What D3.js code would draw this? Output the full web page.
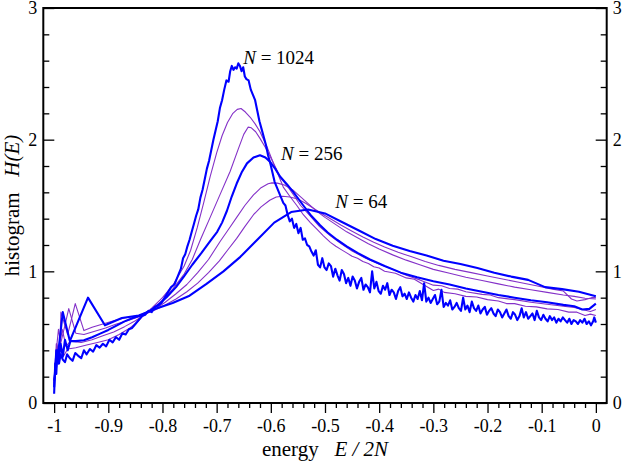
<!DOCTYPE html>
<meta charset="utf-8">

<!-- Load d3.js -->
<script src="https://d3js.org/d3.v7.min.js"></script>

<style>
body {
  margin: 0;
  background: #fff;
}
svg text {
  font-family: "Liberation Serif", "Times New Roman", Times, "DejaVu Serif", serif;
}
</style>

<!-- Create a div where the graph will take place -->
<div id="my_dataviz"></div>

<script>
// ---- data: [E/2N, H(E)] ----
var energyTicks = [-1, -0.9, -0.8, -0.7, -0.6, -0.5, -0.4, -0.3, -0.2, -0.1, 0];
var histTicks = [0, 1, 2, 3];

var curveLabels = ["1024", "256", "64"];

var n64 = [
  [-1.000, 0.17], [-0.992, 0.40], [-0.984, 0.69], [-0.971, 0.47], [-0.9375, 0.80],
  [-0.90625, 0.59], [-0.875, 0.645], [-0.84375, 0.665], [-0.8125, 0.715], [-0.78125, 0.76],
  [-0.75, 0.815], [-0.71875, 0.905], [-0.6875, 1.00], [-0.65625, 1.11], [-0.625, 1.24],
  [-0.59375, 1.37], [-0.5625, 1.45], [-0.53125, 1.47], [-0.5, 1.44], [-0.46875, 1.375],
  [-0.4375, 1.31], [-0.40625, 1.245], [-0.375, 1.195], [-0.34375, 1.155], [-0.3125, 1.12],
  [-0.28125, 1.08], [-0.25, 1.055], [-0.21875, 1.025], [-0.1875, 0.99], [-0.15625, 0.96],
  [-0.125, 0.935], [-0.09375, 0.88], [-0.0625, 0.865], [-0.03125, 0.845], [0, 0.81]
];

var thin4 = [
  [-1.000, 0.15], [-0.995, 0.45], [-0.990, 0.35], [-0.9875, 0.69], [-0.975, 0.52],
  [-0.961, 0.755], [-0.945, 0.55], [-0.930, 0.575], [-0.910, 0.60], [-0.890, 0.625],
  [-0.870, 0.645], [-0.850, 0.66], [-0.835, 0.67], [-0.815, 0.705], [-0.795, 0.745],
  [-0.775, 0.79], [-0.755, 0.845], [-0.735, 0.91], [-0.715, 0.99], [-0.695, 1.08],
  [-0.680, 1.16], [-0.663, 1.25], [-0.648, 1.34], [-0.632, 1.43], [-0.618, 1.49],
  [-0.602, 1.54], [-0.590, 1.565], [-0.578, 1.57], [-0.565, 1.565], [-0.550, 1.55],
  [-0.535, 1.515], [-0.520, 1.475], [-0.505, 1.435], [-0.490, 1.40], [-0.470, 1.35],
  [-0.450, 1.305], [-0.430, 1.26], [-0.410, 1.22], [-0.390, 1.185], [-0.365, 1.145],
  [-0.340, 1.11], [-0.315, 1.075], [-0.290, 1.045], [-0.260, 1.015], [-0.230, 0.99],
  [-0.200, 0.965], [-0.170, 0.94], [-0.140, 0.915], [-0.110, 0.89], [-0.080, 0.865],
  [-0.060, 0.85], [-0.045, 0.79], [-0.035, 0.775], [-0.020, 0.785], [-0.008, 0.80], [0, 0.80]
];

var thin3 = [
  [-1.000, 0.15], [-0.996, 0.40], [-0.992, 0.56], [-0.988, 0.45], [-0.973, 0.717],
  [-0.960, 0.53], [-0.945, 0.52], [-0.925, 0.545], [-0.905, 0.57], [-0.885, 0.60],
  [-0.865, 0.625], [-0.850, 0.645], [-0.835, 0.668], [-0.815, 0.71], [-0.795, 0.765],
  [-0.775, 0.83], [-0.755, 0.90], [-0.735, 0.99], [-0.715, 1.09], [-0.693, 1.23],
  [-0.678, 1.32], [-0.663, 1.41], [-0.648, 1.50], [-0.632, 1.58], [-0.618, 1.635],
  [-0.605, 1.665], [-0.598, 1.672], [-0.588, 1.67], [-0.575, 1.655], [-0.560, 1.62],
  [-0.545, 1.565], [-0.530, 1.51], [-0.515, 1.455], [-0.500, 1.41], [-0.480, 1.355],
  [-0.460, 1.30], [-0.440, 1.255], [-0.420, 1.21], [-0.400, 1.17], [-0.375, 1.125],
  [-0.350, 1.085], [-0.325, 1.05], [-0.300, 1.015], [-0.270, 0.985], [-0.240, 0.955],
  [-0.210, 0.93], [-0.180, 0.905], [-0.150, 0.88], [-0.120, 0.86], [-0.090, 0.84],
  [-0.060, 0.82], [-0.040, 0.81], [-0.020, 0.795], [0, 0.79]
];

var n256 = [
  [-1.000, 0.12], [-0.996, 0.40], [-0.992, 0.30], [-0.988, 0.45], [-0.984, 0.35],
  [-0.980, 0.48], [-0.975, 0.40], [-0.970, 0.47], [-0.960, 0.47], [-0.945, 0.476],
  [-0.930, 0.50], [-0.915, 0.527], [-0.900, 0.555], [-0.884, 0.59], [-0.870, 0.62],
  [-0.855, 0.645], [-0.840, 0.665], [-0.822, 0.704], [-0.805, 0.755], [-0.792, 0.805],
  [-0.775, 0.88], [-0.761, 0.957], [-0.745, 1.05], [-0.728, 1.14], [-0.712, 1.23],
  [-0.699, 1.30], [-0.690, 1.37], [-0.681, 1.46], [-0.672, 1.57], [-0.663, 1.667],
  [-0.654, 1.75], [-0.644, 1.82], [-0.632, 1.865], [-0.620, 1.882], [-0.610, 1.865],
  [-0.601, 1.83], [-0.592, 1.78], [-0.583, 1.72], [-0.570, 1.66], [-0.558, 1.60],
  [-0.540, 1.50], [-0.525, 1.42], [-0.509, 1.35], [-0.495, 1.295], [-0.478, 1.24],
  [-0.460, 1.19], [-0.440, 1.14], [-0.417, 1.09], [-0.390, 1.04], [-0.360, 0.99],
  [-0.330, 0.955], [-0.300, 0.925], [-0.270, 0.90], [-0.240, 0.87], [-0.210, 0.845],
  [-0.180, 0.82], [-0.150, 0.80], [-0.120, 0.78], [-0.090, 0.765], [-0.060, 0.745],
  [-0.040, 0.735], [-0.025, 0.71], [-0.012, 0.715], [0, 0.755]
];

var thin2 = [
  [-1.000, 0.14], [-0.996, 0.45], [-0.992, 0.38], [-0.985, 0.56], [-0.978, 0.43],
  [-0.970, 0.47], [-0.950, 0.46], [-0.930, 0.48], [-0.910, 0.51], [-0.890, 0.54],
  [-0.870, 0.58], [-0.850, 0.625], [-0.835, 0.665], [-0.820, 0.71], [-0.800, 0.78],
  [-0.780, 0.87], [-0.760, 0.98], [-0.745, 1.09], [-0.730, 1.24], [-0.712, 1.41],
  [-0.693, 1.59], [-0.675, 1.76], [-0.660, 1.93], [-0.650, 2.04], [-0.642, 2.095],
  [-0.636, 2.09], [-0.628, 2.06], [-0.620, 2.01], [-0.610, 1.94], [-0.601, 1.87],
  [-0.590, 1.78], [-0.583, 1.717], [-0.570, 1.65], [-0.558, 1.58], [-0.545, 1.50],
  [-0.527, 1.42], [-0.510, 1.34], [-0.490, 1.27], [-0.470, 1.21], [-0.450, 1.155],
  [-0.425, 1.10], [-0.400, 1.055], [-0.375, 1.015], [-0.350, 0.97], [-0.325, 0.935],
  [-0.300, 0.895], [-0.285, 0.89], [-0.270, 0.87], [-0.255, 0.865], [-0.240, 0.845],
  [-0.210, 0.825], [-0.195, 0.82], [-0.180, 0.80], [-0.150, 0.785], [-0.120, 0.765],
  [-0.090, 0.75], [-0.060, 0.735], [-0.040, 0.725], [-0.025, 0.71], [-0.010, 0.695], [0, 0.71]
];

var thin1 = [
  [-1.000, 0.13], [-0.997, 0.38], [-0.993, 0.31], [-0.988, 0.44], [-0.982, 0.36],
  [-0.975, 0.41], [-0.960, 0.42], [-0.940, 0.44], [-0.920, 0.46], [-0.900, 0.48],
  [-0.880, 0.52], [-0.860, 0.57], [-0.845, 0.62], [-0.835, 0.665], [-0.820, 0.72],
  [-0.800, 0.80], [-0.780, 0.90], [-0.760, 1.04], [-0.748, 1.16], [-0.736, 1.33],
  [-0.724, 1.52], [-0.712, 1.72], [-0.700, 1.90], [-0.690, 2.03], [-0.680, 2.13],
  [-0.670, 2.20], [-0.662, 2.23], [-0.655, 2.237], [-0.647, 2.21], [-0.638, 2.17],
  [-0.629, 2.12], [-0.620, 2.06], [-0.607, 1.945], [-0.595, 1.82], [-0.585, 1.72],
  [-0.577, 1.64], [-0.565, 1.57], [-0.552, 1.50], [-0.540, 1.43], [-0.527, 1.37],
  [-0.515, 1.32], [-0.503, 1.27], [-0.490, 1.22], [-0.480, 1.19], [-0.470, 1.165],
  [-0.460, 1.14], [-0.450, 1.115], [-0.440, 1.10], [-0.430, 1.075], [-0.420, 1.06],
  [-0.410, 1.035], [-0.400, 1.025], [-0.390, 1.00], [-0.370, 0.985], [-0.350, 0.95],
  [-0.335, 0.94], [-0.325, 0.915], [-0.300, 0.855], [-0.290, 0.865], [-0.280, 0.84],
  [-0.260, 0.83], [-0.240, 0.81], [-0.220, 0.805], [-0.200, 0.785], [-0.180, 0.775],
  [-0.165, 0.755], [-0.150, 0.755], [-0.130, 0.735], [-0.110, 0.73], [-0.090, 0.715],
  [-0.070, 0.71], [-0.050, 0.69], [-0.035, 0.69], [-0.020, 0.665], [-0.010, 0.675], [0, 0.665]
];

var n1024 = [
  [-1.000, 0.07], [-0.998, 0.30], [-0.996, 0.22], [-0.994, 0.40], [-0.991, 0.30],
  [-0.988, 0.37], [-0.984, 0.33], [-0.980, 0.31], [-0.976, 0.37], [-0.971, 0.34],
  [-0.966, 0.32], [-0.961, 0.38], [-0.956, 0.36], [-0.950, 0.34], [-0.945, 0.40],
  [-0.940, 0.37], [-0.934, 0.41], [-0.928, 0.39], [-0.922, 0.44], [-0.916, 0.42],
  [-0.910, 0.45], [-0.904, 0.43], [-0.898, 0.48], [-0.892, 0.46], [-0.886, 0.50],
  [-0.880, 0.48], [-0.874, 0.53], [-0.868, 0.52], [-0.862, 0.56], [-0.856, 0.57],
  [-0.850, 0.60], [-0.844, 0.63], [-0.838, 0.66], [-0.832, 0.67], [-0.826, 0.70],
  [-0.820, 0.69], [-0.814, 0.73], [-0.808, 0.74], [-0.802, 0.76], [-0.796, 0.80],
  [-0.790, 0.84], [-0.784, 0.88], [-0.778, 0.90], [-0.772, 0.96], [-0.766, 1.02],
  [-0.762, 1.10], [-0.758, 1.13], [-0.754, 1.19], [-0.750, 1.24], [-0.746, 1.30],
  [-0.742, 1.36], [-0.738, 1.42], [-0.734, 1.47], [-0.730, 1.56], [-0.726, 1.62],
  [-0.722, 1.70], [-0.718, 1.78], [-0.714, 1.84], [-0.710, 1.92], [-0.706, 2.00],
  [-0.702, 2.07], [-0.698, 2.14], [-0.694, 2.24], [-0.690, 2.30], [-0.686, 2.38],
  [-0.682, 2.45], [-0.678, 2.44], [-0.675, 2.52], [-0.672, 2.56], [-0.669, 2.53],
  [-0.666, 2.55], [-0.663, 2.54], [-0.660, 2.58], [-0.657, 2.56], [-0.654, 2.52],
  [-0.651, 2.55], [-0.648, 2.48], [-0.645, 2.46], [-0.641, 2.45], [-0.637, 2.38],
  [-0.633, 2.34], [-0.629, 2.30], [-0.625, 2.22], [-0.621, 2.14], [-0.617, 2.08],
  [-0.613, 2.02], [-0.609, 1.96], [-0.605, 1.88], [-0.601, 1.82], [-0.597, 1.75],
  [-0.593, 1.68], [-0.589, 1.64], [-0.585, 1.60], [-0.581, 1.56], [-0.577, 1.52],
  [-0.573, 1.50], [-0.569, 1.43], [-0.565, 1.38], [-0.561, 1.40], [-0.557, 1.33],
  [-0.553, 1.36], [-0.549, 1.29], [-0.545, 1.33], [-0.541, 1.24], [-0.537, 1.25],
  [-0.533, 1.20], [-0.529, 1.19], [-0.525, 1.15], [-0.521, 1.12], [-0.517, 1.16],
  [-0.513, 1.05], [-0.509, 1.03], [-0.505, 1.10], [-0.501, 1.03], [-0.497, 1.01],
  [-0.493, 1.06], [-0.489, 1.04], [-0.485, 0.96], [-0.481, 1.02], [-0.477, 0.97],
  [-0.473, 0.93], [-0.469, 1.01], [-0.465, 0.98], [-0.461, 0.91], [-0.457, 0.95],
  [-0.453, 0.89], [-0.449, 0.96], [-0.445, 0.93], [-0.441, 0.87], [-0.437, 0.92],
  [-0.433, 0.95], [-0.429, 0.86], [-0.425, 0.90], [-0.421, 0.88], [-0.417, 0.84],
  [-0.413, 1.00], [-0.409, 0.87], [-0.405, 0.92], [-0.401, 0.85], [-0.397, 0.83],
  [-0.393, 0.89], [-0.389, 0.86], [-0.385, 0.91], [-0.381, 0.82], [-0.377, 0.86],
  [-0.373, 0.84], [-0.369, 0.79], [-0.365, 0.85], [-0.361, 0.88], [-0.357, 0.81],
  [-0.353, 0.83], [-0.349, 0.79], [-0.345, 0.84], [-0.341, 0.80], [-0.337, 0.77],
  [-0.333, 0.82], [-0.329, 0.79], [-0.325, 0.85], [-0.321, 0.78], [-0.317, 0.91],
  [-0.313, 0.77], [-0.309, 0.80], [-0.305, 0.76], [-0.301, 0.79], [-0.297, 0.82],
  [-0.293, 0.75], [-0.289, 0.77], [-0.285, 0.86], [-0.281, 0.73], [-0.277, 0.76],
  [-0.273, 0.74], [-0.269, 0.78], [-0.265, 0.71], [-0.261, 0.73], [-0.257, 0.76],
  [-0.253, 0.72], [-0.249, 0.70], [-0.245, 0.80], [-0.241, 0.71], [-0.237, 0.74],
  [-0.233, 0.69], [-0.229, 0.77], [-0.225, 0.72], [-0.221, 0.70], [-0.217, 0.74],
  [-0.213, 0.68], [-0.209, 0.71], [-0.205, 0.73], [-0.201, 0.67], [-0.197, 0.70],
  [-0.193, 0.72], [-0.189, 0.68], [-0.185, 0.66], [-0.181, 0.71], [-0.177, 0.69],
  [-0.173, 0.65], [-0.169, 0.68], [-0.165, 0.71], [-0.161, 0.66], [-0.157, 0.64],
  [-0.153, 0.69], [-0.149, 0.67], [-0.145, 0.63], [-0.141, 0.66], [-0.137, 0.72],
  [-0.133, 0.65], [-0.129, 0.69], [-0.125, 0.64], [-0.121, 0.66], [-0.117, 0.68],
  [-0.113, 0.63], [-0.109, 0.70], [-0.105, 0.65], [-0.101, 0.63], [-0.097, 0.67],
  [-0.093, 0.64], [-0.089, 0.62], [-0.085, 0.66], [-0.081, 0.63], [-0.077, 0.65],
  [-0.073, 0.61], [-0.069, 0.64], [-0.065, 0.62], [-0.061, 0.65], [-0.057, 0.63],
  [-0.053, 0.61], [-0.049, 0.64], [-0.045, 0.60], [-0.041, 0.63], [-0.037, 0.62],
  [-0.033, 0.60], [-0.029, 0.63], [-0.025, 0.61], [-0.021, 0.64], [-0.017, 0.60],
  [-0.013, 0.62], [-0.009, 0.59], [-0.005, 0.62], [-0.003, 0.65], [0, 0.61]
];

// set the dimensions and margins of the graph
var margin = {top: 8, right: 16.3, bottom: 59, left: 43.3},
  width = 563.4,
  height = 395;

var svg = d3.select("#my_dataviz")
  .append("svg")
  .attr("width", 623)
  .attr("height", 462)
  .append("g")
  .attr("transform", "translate(" + margin.left + "," + margin.top + ")");

var x = d3.scaleLinear()
  .domain([-1.02, 0.02])
  .range([0, width]);

var y = d3.scaleLinear()
  .domain([0, 3])
  .range([height, 0]);

// minor tick positions
var xMinor = d3.range(-50, 1).map(function(i) { return i / 50; })
  .filter(function(v) { return Math.abs(v * 10 - Math.round(v * 10)) > 1e-6; });
var yMinor = d3.range(0, 16).map(function(i) { return i / 5; })
  .filter(function(v) { return Math.abs(v - Math.round(v)) > 1e-6; });

var serif = "'Liberation Serif', 'Times New Roman', Times, 'DejaVu Serif', serif";

function fmtE(d) {
  return d === 0 ? "0" : d3.format("")(d).replace("\u2212", "-");
}

function styleAxis(g) {
  g.attr("font-family", null);
  g.select(".domain").remove();
  g.selectAll("line").attr("stroke", "#000").attr("stroke-width", 1.3);
  g.selectAll("text")
    .attr("fill", "#000")
    .style("font-family", serif)
    .style("font-size", "18px");
}

// bottom axis, ticks outward
svg.append("g")
  .attr("transform", "translate(0," + height + ")")
  .call(d3.axisBottom(x).tickValues(xMinor).tickSize(5).tickFormat(""))
  .call(styleAxis);
svg.append("g")
  .attr("transform", "translate(0," + height + ")")
  .call(d3.axisBottom(x).tickValues(energyTicks).tickSize(10).tickPadding(6).tickFormat(fmtE))
  .call(styleAxis);

// left axis, ticks inward
svg.append("g")
  .call(d3.axisLeft(y).tickValues(yMinor).tickSize(-6).tickFormat(""))
  .call(styleAxis);
svg.append("g")
  .call(d3.axisLeft(y).tickValues(histTicks).tickSize(-11).tickPadding(6).tickFormat(d3.format("d")))
  .call(styleAxis);

// right axis, ticks inward
svg.append("g")
  .attr("transform", "translate(" + width + ",0)")
  .call(d3.axisRight(y).tickValues(yMinor).tickSize(-6).tickFormat(""))
  .call(styleAxis);
svg.append("g")
  .attr("transform", "translate(" + width + ",0)")
  .call(d3.axisRight(y).tickValues(histTicks).tickSize(-11).tickPadding(6).tickFormat(d3.format("d")))
  .call(styleAxis);

// the curves
var line = d3.line()
  .x(function(d) { return x(d[0]); })
  .y(function(d) { return y(d[1]); });

var thinColor = "#8431c8";
var thickColor = "#0000ff";

[thin1, thin2, thin3, thin4].forEach(function(s) {
  svg.append("path")
    .datum(s)
    .attr("fill", "none")
    .attr("stroke", thinColor)
    .attr("stroke-width", 1.1)
    .attr("stroke-linejoin", "round")
    .attr("d", line);
});

[n64, n256, n1024].forEach(function(s) {
  svg.append("path")
    .datum(s)
    .attr("fill", "none")
    .attr("stroke", thickColor)
    .attr("stroke-width", 2.1)
    .attr("stroke-linejoin", "round")
    .attr("d", line);
});

// frame
svg.append("rect")
  .attr("width", width)
  .attr("height", height)
  .attr("fill", "none")
  .attr("stroke", "#000")
  .attr("stroke-width", 2);

// curve labels "N = ..."
var labelAt = [[-0.651, 2.578], [-0.581, 1.844], [-0.481, 1.482]];
curveLabels.forEach(function(v, i) {
  var t = svg.append("text")
    .attr("x", x(labelAt[i][0]))
    .attr("y", y(labelAt[i][1]))
    .style("font-family", serif)
    .style("font-size", "19px");
  t.append("tspan").style("font-style", "italic").text("N");
  t.append("tspan").text(" = " + v);
});

// y-axis label
var yl = svg.append("text")
  .attr("transform", "translate(" + (19 - margin.left) + "," + (height / 2) + ") rotate(-90)")
  .attr("text-anchor", "middle")
  .style("font-family", serif)
  .style("font-size", "21px")
  .style("white-space", "pre");
yl.append("tspan").text("histogram   ");
yl.append("tspan").style("font-style", "italic").text("H(E)");

// x-axis label
var xl = svg.append("text")
  .attr("x", width / 2)
  .attr("y", height + 53)
  .attr("text-anchor", "middle")
  .style("font-family", serif)
  .style("font-size", "21px")
  .style("white-space", "pre");
xl.append("tspan").text("energy   ");
xl.append("tspan").style("font-style", "italic").text("E / 2N");
</script>
